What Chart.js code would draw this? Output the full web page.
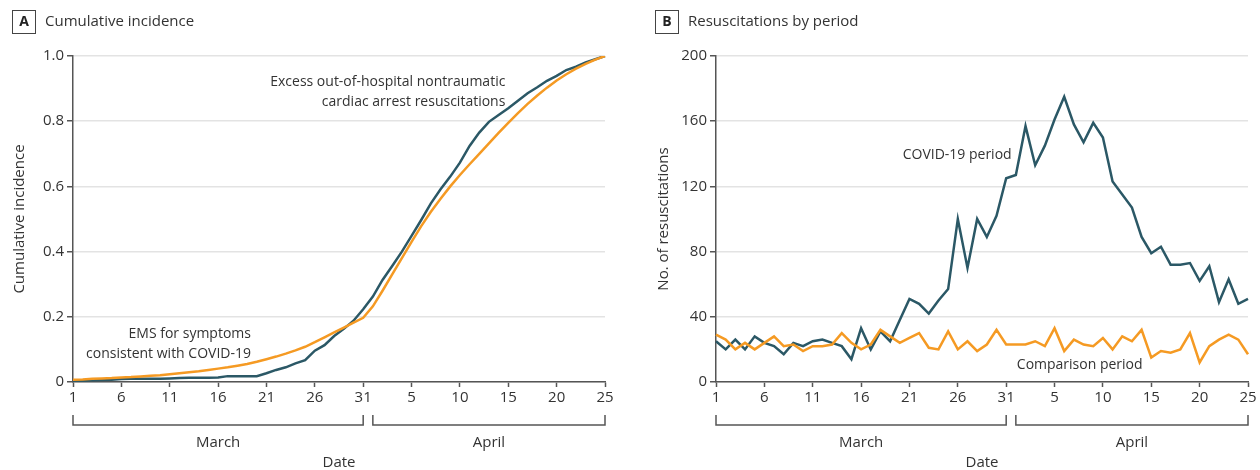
<!DOCTYPE html>
<html>
<head>
<meta charset="utf-8">
<script src="https://cdn.jsdelivr.net/npm/chart.js@4.4.0/dist/chart.umd.min.js"></script>
<style>
html, body { margin: 0; padding: 0; background: #fff; width: 1260px; height: 470px; overflow: hidden; }
.panel { position: absolute; top: 0; width: 630px; height: 470px; }
canvas { display: block; }
</style>
</head>
<body>
<div class="panel" style="left:0px"><canvas id="chartA" width="630" height="470"></canvas></div>
<div class="panel" style="left:630px"><canvas id="chartB" width="630" height="470"></canvas></div>
<script>
// ---------- DATA ----------
const dayLabels = [
  '1','2','3','4','5','6','7','8','9','10','11','12','13','14','15','16','17','18','19','20',
  '21','22','23','24','25','26','27','28','29','30','31',
  '1','2','3','4','5','6','7','8','9','10','11','12','13','14','15','16','17','18','19','20',
  '21','22','23','24','25'
];
const monthNames = ['March', 'April'];
const monthFirstIndex = [0, 31];
const monthLastIndex = [30, 55];

// Panel A: cumulative incidence
const cumExcessResuscitations = [
  0.003,0.004,0.005,0.006,0.007,0.009,0.010,0.010,0.010,0.010,0.011,0.012,0.013,0.013,0.013,0.014,
  0.018,0.018,0.018,0.018,0.027,0.037,0.045,0.057,0.067,0.096,0.113,0.141,0.163,0.188,0.223,
  0.262,0.313,0.356,0.400,0.448,0.497,0.548,0.591,0.630,0.673,0.724,0.765,0.798,0.819,0.840,
  0.863,0.886,0.904,0.924,0.939,0.957,0.967,0.980,0.990,1.000
];
const cumEmsCovidSymptoms = [
  0.007,0.008,0.010,0.011,0.012,0.014,0.015,0.017,0.019,0.021,0.024,0.027,0.030,0.033,0.037,0.041,
  0.045,0.050,0.055,0.062,0.070,0.078,0.087,0.097,0.108,0.122,0.137,0.152,0.167,0.182,0.197,
  0.232,0.280,0.330,0.380,0.430,0.478,0.522,0.562,0.600,0.635,0.668,0.700,0.732,0.764,0.795,
  0.825,0.853,0.879,0.903,0.925,0.944,0.961,0.976,0.989,1.000
];
const yTicksA = [0, 0.2, 0.4, 0.6, 0.8, 1.0];

// Panel B: resuscitations by period
const covidPeriod = [
  25,20,26,20,28,24,22,17,24,22,25,26,24,22,14,33,20,31,25,38,51,48,42,50,57,100,70,100,89,102,125,
  127,157,133,145,161,175,158,147,159,150,123,115,107,89,79,83,72,72,73,62,71,49,63,48,51
];
const comparisonPeriod = [
  29,26,20,24,20,24,28,22,23,19,22,22,23,30,24,20,23,32,28,24,27,30,21,20,31,20,25,19,23,32,23,
  23,23,25,22,33,19,26,23,22,27,20,28,25,32,15,19,18,20,30,12,22,26,29,26,17
];
const yTicksB = [0, 40, 80, 120, 160, 200];

// ---------- STYLE ----------
const FONT = '"Open Sans", sans-serif';
const TEXT = '#333333';
const AXIS = '#555555';
const GRID = '#e3e3e3';
const TEAL = '#2b5866';
const ORANGE = '#f59a23';
const X_TICK_EVERY = 5;

Chart.defaults.font.family = FONT;
Chart.defaults.color = TEXT;

const decor = {
  id: 'decor',
  afterDraw(chart, args, o) {
    const { ctx, chartArea: ca, scales } = chart;
    const x = scales.x, y = scales.y;
    ctx.save();
    // panel header
    ctx.strokeStyle = '#444';
    ctx.lineWidth = 1;
    ctx.strokeRect(o.boxX + 0.5, 10.5, 23, 23);
    ctx.fillStyle = '#222';
    ctx.font = 'bold 14px ' + FONT;
    ctx.textAlign = 'center';
    ctx.textBaseline = 'middle';
    ctx.fillText(o.letter, o.boxX + 12, 22.5);
    ctx.fillStyle = TEXT;
    ctx.font = '15px ' + FONT;
    ctx.textAlign = 'left';
    ctx.fillText(o.title, o.boxX + 33, 22);
    // month brackets
    ctx.strokeStyle = AXIS;
    ctx.lineWidth = 1.5;
    ctx.textAlign = 'center';
    const yb = ca.bottom + 43, yt = ca.bottom + 33;
    monthNames.forEach((m, k) => {
      const x0 = x.getPixelForValue(monthFirstIndex[k]);
      const x1 = x.getPixelForValue(monthLastIndex[k]);
      ctx.beginPath();
      ctx.moveTo(x0, yt); ctx.lineTo(x0, yb); ctx.lineTo(x1, yb); ctx.lineTo(x1, yt);
      ctx.stroke();
      ctx.fillText(m, (x0 + x1) / 2, ca.bottom + 61);
    });
    // annotations
    ctx.font = '14px ' + FONT;
    ctx.textBaseline = 'alphabetic';
    o.notes.forEach(n => {
      ctx.textAlign = n.align;
      const px = x.getPixelForValue(n.at[0]);
      const py = y.getPixelForValue(n.at[1]);
      n.lines.forEach((t, i) => ctx.fillText(t, px, py + i * 20));
    });
    ctx.restore();
  }
};

function makeChart(id, p) {
  return new Chart(document.getElementById(id), {
    type: 'line',
    data: {
      labels: dayLabels,
      datasets: p.series.map(s => ({
        data: s.data, borderColor: s.color, backgroundColor: s.color,
        borderWidth: 2.5, pointRadius: 0, tension: 0, fill: false,
        borderJoinStyle: 'miter'
      }))
    },
    options: {
      responsive: false,
      animation: false,
      devicePixelRatio: 1,
      layout: { padding: { left: 0, right: p.padRight, top: 56, bottom: 0 } },
      plugins: { legend: { display: false }, tooltip: { enabled: false }, decor: p.decor },
      scales: {
        x: {
          type: 'category',
          offset: false,
          afterFit: s => { s.height = 88; },
          afterBuildTicks: s => { s.ticks = s.ticks.filter(t => t.value % X_TICK_EVERY === 0); },
          ticks: { autoSkip: false, maxRotation: 0, minRotation: 0, padding: 2, color: TEXT, font: { family: FONT, size: 15 } },
          grid: { display: true, drawOnChartArea: false, drawTicks: true, tickLength: 5, tickColor: AXIS, tickWidth: 1.5 },
          border: { display: true, color: AXIS, width: 1.5 },
          title: { display: true, text: 'Date', color: TEXT, font: { family: FONT, size: 15, lineHeight: 1 }, padding: 0 }
        },
        y: {
          min: p.yTicks[0],
          max: p.yTicks[p.yTicks.length - 1],
          afterFit: s => { s.width = p.yWidth; },
          afterBuildTicks: s => { s.ticks = p.yTicks.map(v => ({ value: v })); },
          ticks: { padding: 3, color: TEXT, font: { family: FONT, size: 15 }, callback: p.yFmt },
          grid: { color: GRID, lineWidth: 1.5, drawTicks: true, tickLength: 6, tickColor: AXIS, tickWidth: 1.5 },
          border: { display: true, color: AXIS, width: 1.5 },
          title: { display: true, text: p.yTitle, color: TEXT, font: { family: FONT, size: 15, lineHeight: 1.2 }, padding: { top: p.yTitlePad, bottom: 0 } }
        }
      }
    },
    plugins: [decor]
  });
}

function draw() {
  makeChart('chartA', {
    series: [
      { data: cumEmsCovidSymptoms, color: ORANGE },
      { data: cumExcessResuscitations, color: TEAL }
    ],
    yTicks: yTicksA,
    yFmt: v => (v === 0 ? '0' : Number(v).toFixed(1)),
    yWidth: 73,
    padRight: 25,
    yTitle: 'Cumulative incidence',
    yTitlePad: 11,
    decor: {
      letter: 'A', title: 'Cumulative incidence', boxX: 12,
      notes: [
        { at: [44.7, 0.909], align: 'right', lines: ['Excess out-of-hospital nontraumatic', 'cardiac arrest resuscitations'] },
        { at: [18.4, 0.135], align: 'right', lines: ['EMS for symptoms', 'consistent with COVID-19'] }
      ]
    }
  });
  makeChart('chartB', {
    series: [
      { data: comparisonPeriod, color: ORANGE },
      { data: covidPeriod, color: TEAL }
    ],
    yTicks: yTicksB,
    yFmt: v => String(v),
    yWidth: 86,
    padRight: 12,
    yTitle: 'No. of resuscitations',
    yTitlePad: 25,
    decor: {
      letter: 'B', title: 'Resuscitations by period', boxX: 25,
      notes: [
        { at: [19.3, 136.8], align: 'left', lines: ['COVID-19 period'] },
        { at: [31.1, 8.0], align: 'left', lines: ['Comparison period'] }
      ]
    }
  });
}

if (document.fonts && document.fonts.load) {
  Promise.all([
    document.fonts.load('15px "Open Sans"'),
    document.fonts.load('bold 14px "Open Sans"')
  ]).then(draw, draw);
} else {
  draw();
}
</script>
</body>
</html>
